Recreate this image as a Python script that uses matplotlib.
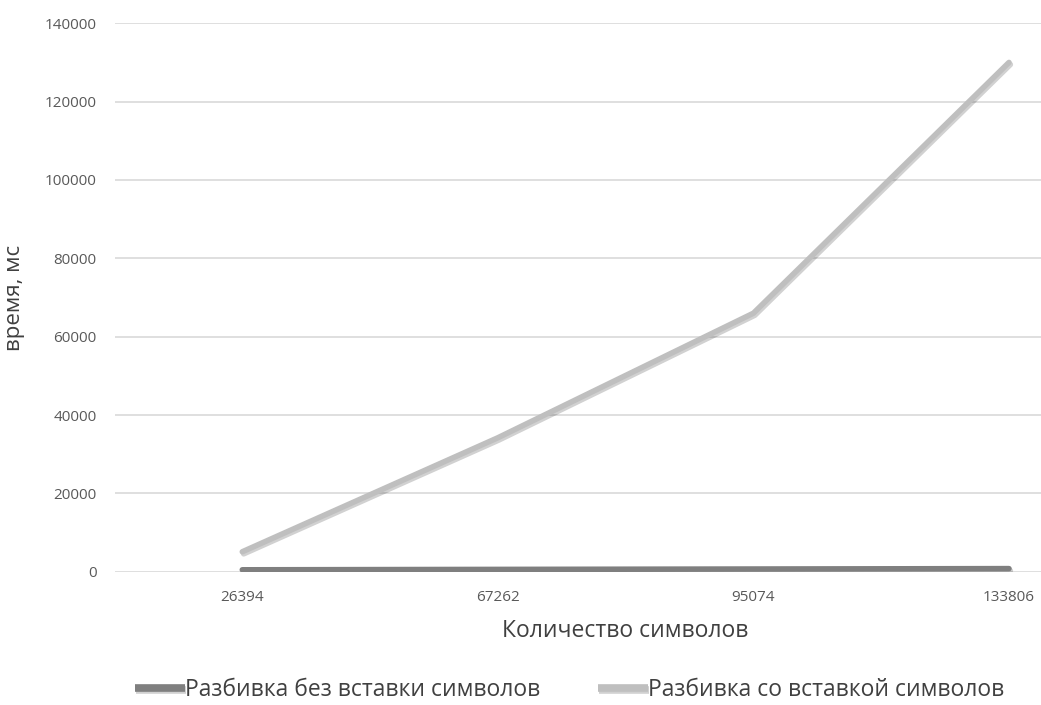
import matplotlib.pyplot as plt
import matplotlib.patheffects as pe

plt.rcParams['font.family'] = ['Open Sans', 'DejaVu Sans']

# количество символов в тексте и время обработки, мс
categories = ['26394', '67262', '95074', '133806']
no_insert = [500, 600, 700, 800]
with_insert = [5100, 34200, 66000, 130000]
yticks = [0, 20000, 40000, 60000, 80000, 100000, 120000, 140000]

fig = plt.figure(figsize=(10.41, 7.05), dpi=100)
# область построения шире рисунка - правый край обрезан, как у исходной диаграммы
ax = fig.add_axes([0.110, 0.189, 0.982, 0.778])

x = range(len(categories))
shadow = [pe.SimpleLineShadow(offset=(1, -1.5), shadow_color='#000000', alpha=0.18),
          pe.Normal()]
ax.plot(x, no_insert, color='#7f7f7f', lw=4, solid_capstyle='round',
        label='Разбивка без вставки символов', path_effects=shadow, zorder=3)
ax.plot(x, with_insert, color='#bfbfbf', lw=4, solid_capstyle='round',
        label='Разбивка со вставкой символов', path_effects=shadow, zorder=3)

ax.set_ylim(0, 140000)
ax.set_xlim(-0.5, 3.5)
ax.set_yticks(yticks)
ax.set_yticklabels([str(v) for v in yticks])
ax.set_xticks(list(x))
ax.set_xticklabels(categories)
ax.grid(axis='y', color='#d9d9d9', lw=1.2)
ax.set_axisbelow(True)
for s in ax.spines.values():
    s.set_visible(False)
ax.tick_params(axis='both', length=0, labelsize=11, labelcolor='#595959')
ax.tick_params(axis='y', pad=13)
ax.tick_params(axis='x', pad=13)

ax.set_xlabel('Количество символов', fontsize=16.5, color='#404040', labelpad=10)
ax.set_ylabel('время, мс', fontsize=16, color='#404040', labelpad=14)

leg = fig.legend(loc='center', bbox_to_anchor=(0.547, 0.021), ncol=2, frameon=False,
                 fontsize=16.5, labelcolor='#404040', handlelength=2.2,
                 handletextpad=0.0, columnspacing=2.5)
for h in leg.get_lines():
    h.set_linewidth(5.5)
    h.set_solid_capstyle('butt')

fig.savefig('out.png', dpi=100)
